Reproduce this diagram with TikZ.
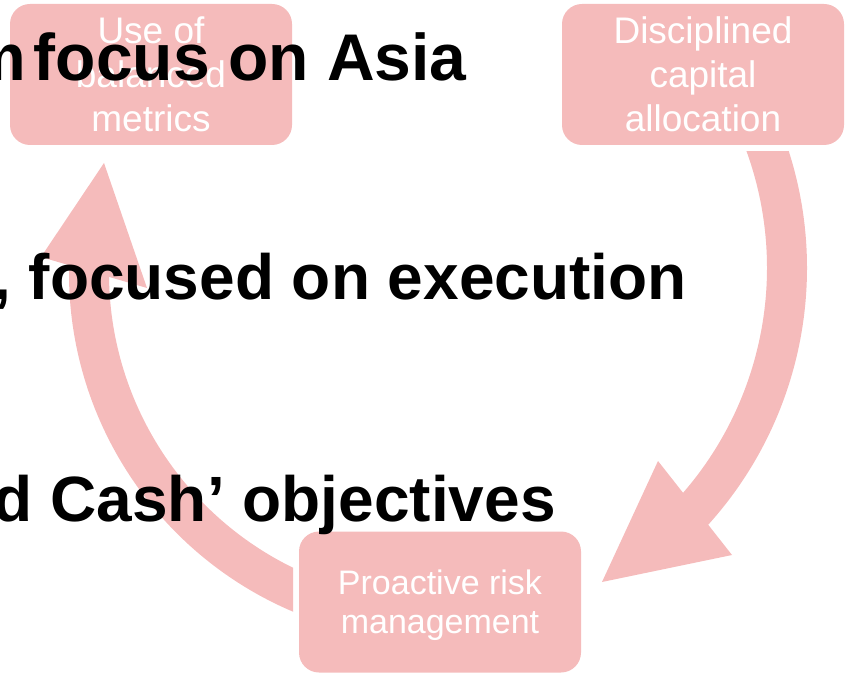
\documentclass[tikz,border=0pt]{standalone}
\usepackage{fontspec}
\setmainfont{Liberation Sans}
\definecolor{cyclepink}{RGB}{245,187,187}
\begin{document}
\begin{tikzpicture}[x=0.75pt,y=-0.75pt,
  box/.style={fill=cyclepink, draw=none, rounded corners=15pt,
    minimum width=211.5pt, minimum height=105.75pt, inner sep=0pt,
    align=center, text=white},
  bigtext/.style={font=\fontsize{27.75}{33}\selectfont},
  smalltext/.style={font=\fontsize{25.5}{29.25}\selectfont, text depth=0pt},
  shaft/.style={draw=cyclepink, line width=30pt},
  head/.style={fill=cyclepink, draw=none},
  headline/.style={font=\bfseries\fontsize{48}{58}\selectfont,
    inner sep=0pt, anchor=base east}]

\useasboundingbox (0,0) rectangle (846,677);
\clip (0,0) rectangle (846,677);

% the three stages of the cycle
\node[box,bigtext] (metrics) at (151,74.5) {Use of\\balanced\\metrics};
\node[box,bigtext] (capital) at (703,74.5) {Disciplined\\capital\\allocation};
\node[box,smalltext] (risk) at (440,602) {Proactive risk\\management};

% centres of the two curved arrows
\coordinate (rc) at (424,268);
\coordinate (lc) at (437,273);

% arrow from capital allocation down to risk management
\begin{scope}
  \clip (0,152) rectangle (846,677);
  \draw[shaft] ([shift={(-22:363)}]rc) arc[start angle=-22, end angle=43, radius=363];
\end{scope}
\coordinate (rtip) at (602,582);
\coordinate (rbarbA) at (658,461);
\coordinate (rbarbB) at (732,555);
\fill[head] (rtip) -- (rbarbA) -- (rbarbB) -- cycle;

% arrow from risk management back up to balanced metrics
\begin{scope}
  \clip (0,0) rectangle (293,677);
  \draw[shaft] ([shift={(108:348)}]lc) arc[start angle=108, end angle=182, radius=348];
\end{scope}
\coordinate (ltip) at (104,163);
\coordinate (lbarbA) at (41,257);
\coordinate (lbarbB) at (147,288);
\fill[head] (ltip) -- (lbarbA) -- (lbarbB) -- cycle;

% slide headlines on top
\node[headline, font=\bfseries\fontsize{49.5}{59}\selectfont] (asia) at (467,81) {m\kern-8pt\ focus on Asia};
\node[headline] (exec) at (687,300) {, focused on execution};
\node[headline] (cash) at (556,521) {d Cash’ objectives};
\end{tikzpicture}
\end{document}
